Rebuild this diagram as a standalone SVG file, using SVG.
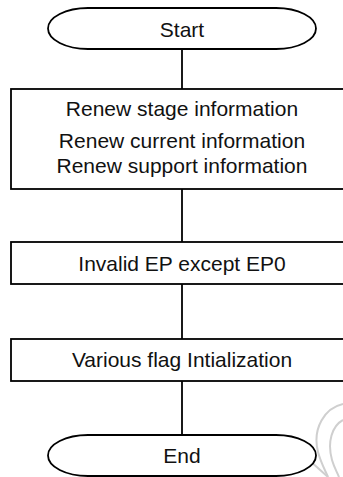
<svg xmlns="http://www.w3.org/2000/svg" width="343" height="477" viewBox="0 0 343 477">
<style>
.shape{fill:#fff;stroke:#000;stroke-width:1.8}
.conn{stroke:#000;stroke-width:1.8;fill:none}
.t{font-family:"Liberation Sans",Arial,sans-serif;font-size:21px;fill:#111;text-anchor:middle}
.wm{fill:none;stroke:#cfcfcf;stroke-width:2}
</style>
<rect width="343" height="477" fill="#fff"/>
<g id="watermark">
<path class="wm" d="M343,404 C325,408 312,428 318,452 C321,463 325,470 328,477"/>
<path class="wm" d="M343,420 C332,426 327,442 332,460 C334,467 337,472 339,477"/>
<path class="wm" d="M300,452 L328,477"/>
</g>
<g id="connectors">
<line class="conn" x1="182" y1="49" x2="182" y2="89"/>
<line class="conn" x1="182" y1="189" x2="182" y2="242"/>
<line class="conn" x1="182" y1="284" x2="182" y2="339"/>
<line class="conn" x1="182" y1="381" x2="182" y2="435"/>
</g>
<g id="start">
<path class="shape" d="M88,8 H276 A40,20.5 0 0 1 276,49 H88 A40,20.5 0 0 1 88,8 Z"/>
<text class="t" x="182" y="37">Start</text>
</g>
<g id="renew">
<rect class="shape" x="11" y="89" width="342" height="100"/>
<text class="t" x="182" y="115.5">Renew stage information</text>
<text class="t" x="182" y="148">Renew current information</text>
<text class="t" x="182" y="172.5">Renew support information</text>
</g>
<g id="invalid">
<rect class="shape" x="11" y="242" width="342" height="42"/>
<text class="t" x="182" y="271">Invalid EP except EP0</text>
</g>
<g id="flag">
<rect class="shape" x="11" y="339" width="342" height="42"/>
<text class="t" x="182" y="367">Various flag Intialization</text>
</g>
<g id="end">
<path class="shape" d="M88,435 H276 A40,20.5 0 0 1 276,476 H88 A40,20.5 0 0 1 88,435 Z"/>
<text class="t" x="182" y="463">End</text>
</g>
</svg>
